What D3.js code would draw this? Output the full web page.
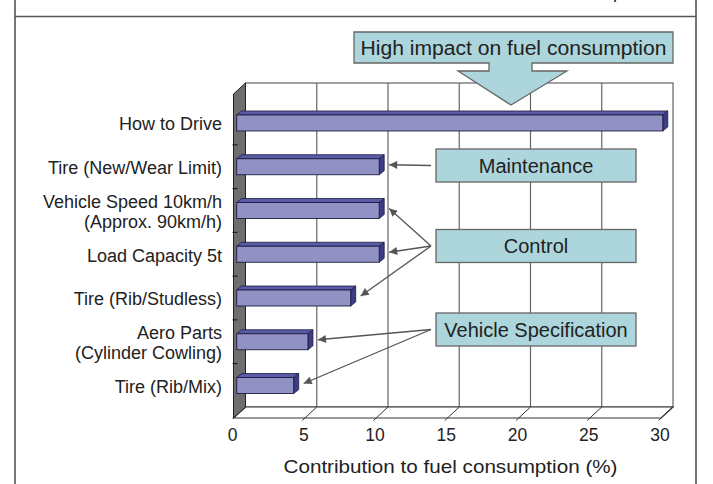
<!DOCTYPE html>
<html>
<head>
<meta charset="utf-8">
<script src="https://cdn.jsdelivr.net/npm/d3@7"></script>
<style>
  body { margin: 0; background: #fff; }
  svg text { font-family: "Liberation Sans", Arial, sans-serif; fill: #222; }
</style>
</head>
<body>
<div id="chart"></div>
<script>
// data
const categories = ["How to Drive", "Tire (New/Wear Limit)", "Vehicle Speed 10km/h\n(Approx. 90km/h)",
    "Load Capacity 5t", "Tire (Rib/Studless)", "Aero Parts\n(Cylinder Cowling)", "Tire (Rib/Mix)"];
const values = [29.9, 10, 10, 10, 8, 5, 4];
const xTicks = [0, 5, 10, 15, 20, 25, 30];
const groupNames = ["Maintenance", "Control", "Vehicle Specification"];
const groupTargets = [[1], [2, 3, 4], [5, 6]];
const axisTitle = "Contribution to fuel consumption (%)";
const calloutText = "High impact on fuel consumption";

const width = 713, height = 484;
const DX = 12, DY = -11;          // depth offset, front plane -> back wall
const floorY = 418, topY = 94;

const svg = d3.select("#chart").append("svg")
    .attr("width", width).attr("height", height);

const x = d3.scaleLinear().domain([0, 30]).range([233.5, 661]);
const y = d3.scaleBand().domain(categories).range([101.1, 407.4]);

// outer frame
svg.append("path")
    .attr("d", "M15,0 V484 M696,0 V484 M15,16.5 H696")
    .attr("fill", "none").attr("stroke", "#555").attr("stroke-width", 1.6);
svg.append("text").attr("x", 613).attr("y", -2.5).attr("font-size", 18).text("p");

// back wall
const bx = v => x(v) + DX;
svg.append("rect")
    .attr("x", bx(0)).attr("y", topY + DY)
    .attr("width", bx(30) - bx(0)).attr("height", floorY - topY)
    .attr("fill", "#fff").attr("stroke", "#444").attr("stroke-width", 1);
svg.append("g").selectAll("line")
    .data(xTicks.slice(1, -1))
    .join("line")
    .attr("x1", bx).attr("x2", bx)
    .attr("y1", topY + DY).attr("y2", floorY + DY)
    .attr("stroke", "#666").attr("stroke-width", 1.2);

// floor
svg.append("path")
    .attr("d", `M${x(0)},${floorY} L${x(30)},${floorY} L${bx(30)},${floorY + DY} L${bx(0)},${floorY + DY} Z`)
    .attr("fill", "#fff").attr("stroke", "#333").attr("stroke-width", 1.2);
svg.append("g").selectAll("line")
    .data(xTicks.slice(1))
    .join("line")
    .attr("x1", bx).attr("y1", floorY + DY)
    .attr("x2", d => x(d) - 2.5).attr("y2", floorY + 2.5)
    .attr("stroke", "#333").attr("stroke-width", 1);

// side wall
svg.append("path")
    .attr("d", `M${x(0)},${topY} L${bx(0)},${topY + DY} L${bx(0)},${floorY + DY} L${x(0)},${floorY} Z`)
    .attr("fill", "#6e6e70").attr("stroke", "#222").attr("stroke-width", 1);
svg.append("g").selectAll("line")
    .data(categories.slice(1))
    .join("line")
    .attr("x1", x(0) - 1).attr("x2", x(0) + 4)
    .attr("y1", d => y(d)).attr("y2", d => y(d))
    .attr("stroke", "#111").attr("stroke-width", 1);

// bars (front face sits a little behind the front plane)
const bh = 16, off = 3.2, dx = 5, dy = -4;
const bars = svg.append("g").selectAll("g")
    .data(categories.map((c, i) => ({ c, v: values[i] })))
    .join("g");
bars.append("path")   // top
    .attr("d", d => {
        const x0 = x(0) + off, x1 = x(d.v) + off, t = y(d.c) + y.bandwidth() / 2 - bh / 2;
        return `M${x0},${t} L${x0 + dx},${t + dy} L${x1 + dx},${t + dy} L${x1},${t} Z`;
    })
    .attr("fill", "#5b5ba8").attr("stroke", "#1c1c40").attr("stroke-width", 0.8);
bars.append("path")   // side
    .attr("d", d => {
        const x1 = x(d.v) + off, t = y(d.c) + y.bandwidth() / 2 - bh / 2;
        return `M${x1},${t} L${x1 + dx},${t + dy} L${x1 + dx},${t + dy + bh} L${x1},${t + bh} Z`;
    })
    .attr("fill", "#3d3d85").attr("stroke", "#1c1c40").attr("stroke-width", 0.8);
bars.append("rect")   // front
    .attr("x", x(0) + off)
    .attr("y", d => y(d.c) + y.bandwidth() / 2 - bh / 2)
    .attr("width", d => x(d.v) - x(0))
    .attr("height", bh)
    .attr("fill", "#9191c3").attr("stroke", "#1c1c40").attr("stroke-width", 0.9);

// category labels
svg.append("g").selectAll("text")
    .data(categories)
    .join("text")
    .attr("text-anchor", "end")
    .attr("font-size", 18)
    .each(function (d) {
        const lines = d.split("\n");
        const cy = y(d) + y.bandwidth() / 2 + 1;
        d3.select(this).selectAll("tspan")
            .data(lines)
            .join("tspan")
            .attr("x", 222)
            .attr("y", (l, i) => cy + (i - (lines.length - 1) / 2) * 20.5)
            .attr("dy", "0.35em")
            .text(l => l);
    });

// x tick labels and title
svg.append("g").selectAll("text")
    .data(xTicks)
    .join("text")
    .attr("x", d => x(d) - 1).attr("y", 435).attr("dy", "0.35em")
    .attr("text-anchor", "middle").attr("font-size", 17.5)
    .text(d => d);
svg.append("text")
    .attr("x", 450.5).attr("y", 467).attr("dy", "0.35em")
    .attr("text-anchor", "middle").attr("font-size", 18.5)
    .attr("textLength", 334).attr("lengthAdjust", "spacingAndGlyphs")
    .text(axisTitle);

// callout with downward arrow
svg.append("path")
    .attr("d", "M354,32 H673 V63 H532 V71 H567 L511,105 L458,71 H489 V63 H354 Z")
    .attr("fill", "#acd5dc").attr("stroke", "#666").attr("stroke-width", 1.3);
svg.append("text")
    .attr("x", 513.5).attr("y", 48).attr("dy", "0.35em")
    .attr("text-anchor", "middle").attr("font-size", 19.5)
    .attr("textLength", 306).attr("lengthAdjust", "spacingAndGlyphs")
    .text(calloutText);

// group boxes and pointer arrows
svg.append("defs").append("marker")
    .attr("id", "head").attr("viewBox", "0 0 10 10")
    .attr("refX", 10).attr("refY", 5)
    .attr("markerWidth", 11).attr("markerHeight", 8)
    .attr("markerUnits", "userSpaceOnUse")
    .attr("orient", "auto")
    .append("path").attr("d", "M0,0 L10,5 L0,10 Z").attr("fill", "#555");

const boxX = 436, boxW = 200, boxH = 33;
const boxY = [149, 229.5, 313];
groupNames.forEach((name, gi) => {
    const cy = boxY[gi] + boxH / 2;
    groupTargets[gi].forEach(ti => {
        const c = categories[ti];
        svg.append("line")
            .attr("x1", boxX - 5).attr("y1", cy)
            .attr("x2", x(values[ti]) + off + dx + 5)
            .attr("y2", y(c) + y.bandwidth() / 2 - 2)
            .attr("stroke", "#555").attr("stroke-width", 1.3)
            .attr("marker-end", "url(#head)");
    });
    svg.append("rect")
        .attr("x", boxX).attr("y", boxY[gi])
        .attr("width", boxW).attr("height", boxH)
        .attr("fill", "#acd5dc").attr("stroke", "#666").attr("stroke-width", 1.3);
    svg.append("text")
        .attr("x", boxX + boxW / 2).attr("y", cy).attr("dy", "0.35em")
        .attr("text-anchor", "middle").attr("font-size", 20)
        .text(name);
});
</script>
</body>
</html>
